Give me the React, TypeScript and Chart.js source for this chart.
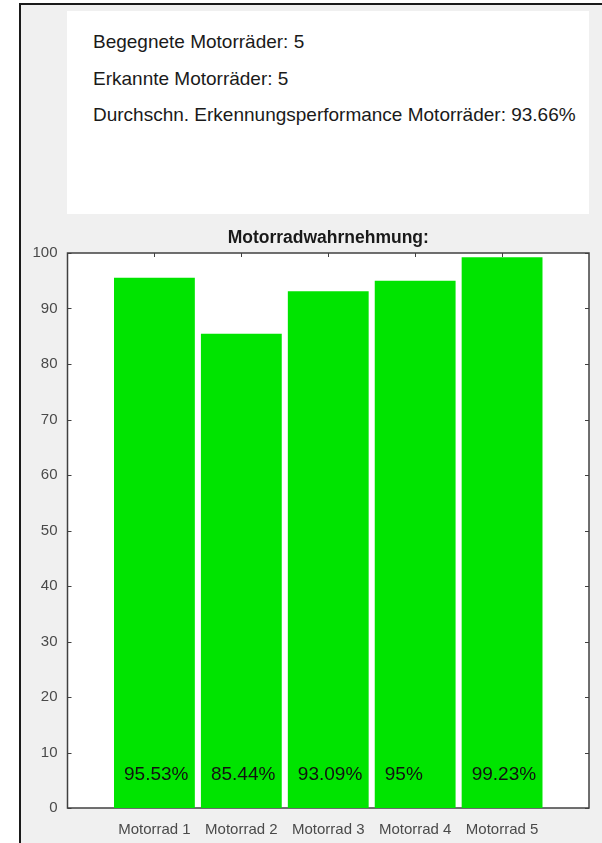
import { useEffect, useRef } from 'react';
import { Chart, registerables } from 'chart.js';

Chart.register(...registerables);

const categories = ['Motorrad 1', 'Motorrad 2', 'Motorrad 3', 'Motorrad 4', 'Motorrad 5'];
const values = [95.53, 85.44, 93.09, 95, 99.23];
const valueLabels = ['95.53%', '85.44%', '93.09%', '95%', '99.23%'];
const yTicks = [0, 10, 20, 30, 40, 50, 60, 70, 80, 90, 100];
const chartTitle = 'Motorradwahrnehmung:';
const infoLines = [
  'Begegnete Motorräder: 5',
  'Erkannte Motorräder: 5',
  'Durchschn. Erkennungsperformance Motorräder: 93.66%',
];
const labelY = 6;
const labelXOffset = -0.35;

const FONT = '"Liberation Sans", Arial, Helvetica, sans-serif';
const AXIS_COLOR = '#404040';

const framePlugin = {
  id: 'matlabFrame',
  beforeDatasetsDraw(chart: any) {
    const { ctx, chartArea } = chart;
    const { left, right, top, bottom } = chartArea;
    const x = chart.scales.x;
    const y = chart.scales.y;
    ctx.save();
    ctx.fillStyle = '#ffffff';
    ctx.fillRect(left, top, right - left, bottom - top);
    ctx.strokeStyle = AXIS_COLOR;
    ctx.lineWidth = 1;
    ctx.beginPath();
    const tl = 4;
    yTicks.forEach((v) => {
      const py = Math.round(y.getPixelForValue(v)) + 0.5;
      ctx.moveTo(left, py);
      ctx.lineTo(left + tl, py);
      ctx.moveTo(right, py);
      ctx.lineTo(right - tl, py);
    });
    categories.forEach((_, i) => {
      const px = Math.round(x.getPixelForValue(i + 1)) + 0.5;
      ctx.moveTo(px, top);
      ctx.lineTo(px, top + tl);
      ctx.moveTo(px, bottom);
      ctx.lineTo(px, bottom - tl);
    });
    ctx.stroke();
    ctx.lineWidth = 1.5;
    ctx.strokeRect(left, top, right - left, bottom - top);
    ctx.restore();
  },
  afterDatasetsDraw(chart: any) {
    const { ctx } = chart;
    const x = chart.scales.x;
    const y = chart.scales.y;
    ctx.save();
    ctx.fillStyle = '#111111';
    ctx.font = `19px ${FONT}`;
    ctx.textAlign = 'left';
    ctx.textBaseline = 'middle';
    valueLabels.forEach((t, i) => {
      ctx.fillText(t, x.getPixelForValue(i + 1 + labelXOffset), y.getPixelForValue(labelY));
    });
    ctx.restore();
  },
};

function BarChart() {
  const ref = useRef<HTMLCanvasElement>(null);
  useEffect(() => {
    const canvas = ref.current;
    if (!canvas) return;
    const chart = new Chart(canvas, {
      type: 'bar',
      data: {
        datasets: [
          {
            data: values.map((v, i) => ({ x: i + 1, y: v })),
            backgroundColor: '#00e400',
            borderWidth: 0,
            categoryPercentage: 1,
            barPercentage: 0.93,
          },
        ],
      },
      options: {
        animation: false,
        responsive: false,
        maintainAspectRatio: false,
        layout: { padding: { left: 0, right: 13, top: 0, bottom: 0 } },
        plugins: {
          legend: { display: false },
          tooltip: { enabled: false },
          title: {
            display: true,
            text: chartTitle,
            fullSize: false,
            color: '#1a1a1a',
            font: { family: FONT, size: 17.5, weight: 'bold', lineHeight: 1.2 },
            padding: { top: 7.5, bottom: 4.5 },
          },
        },
        scales: {
          x: {
            type: 'linear',
            min: 0,
            max: 6,
            offset: false,
            grid: { display: false, drawTicks: false },
            border: { display: false },
            afterBuildTicks: (scale: any) => {
              scale.ticks = categories.map((_, i) => ({ value: i + 1 }));
            },
            afterFit: (scale: any) => {
              scale.height = 35;
            },
            ticks: {
              autoSkip: false,
              maxRotation: 0,
              padding: 13,
              color: '#4a4a4a',
              font: { family: FONT, size: 15 },
              callback: (v: any) => categories[Number(v) - 1] ?? '',
            },
          },
          y: {
            type: 'linear',
            min: 0,
            max: 100,
            grid: { display: false, drawTicks: false },
            border: { display: false },
            afterBuildTicks: (scale: any) => {
              scale.ticks = yTicks.map((v) => ({ value: v }));
            },
            afterFit: (scale: any) => {
              scale.width = 67.5;
            },
            ticks: {
              padding: 10,
              color: '#4a4a4a',
              font: { family: FONT, size: 15 },
            },
          },
        },
      },
      plugins: [framePlugin],
    });
    return () => chart.destroy();
  }, []);
  return (
    <canvas
      ref={ref}
      width={602}
      height={623}
      style={{ position: 'absolute', left: 0, top: 220, width: 602, height: 623 }}
    />
  );
}

export default function App() {
  const lineTops = [31.7, 68.7, 104.7];
  return (
    <div
      style={{
        position: 'fixed',
        left: 0,
        top: 0,
        width: 602,
        height: 843,
        background: '#ffffff',
        overflow: 'hidden',
        fontFamily: FONT,
      }}
    >
      <div
        style={{
          position: 'absolute',
          left: 19,
          top: 3,
          right: 0,
          bottom: 0,
          background: '#f0f0f0',
          borderLeft: '2px solid #1a1a1a',
          borderTop: '2px solid #1a1a1a',
        }}
      />
      <div
        style={{
          position: 'absolute',
          left: 67,
          top: 11,
          width: 522,
          height: 203,
          background: '#ffffff',
        }}
      />
      {infoLines.map((t, i) => (
        <div
          key={i}
          style={{
            position: 'absolute',
            left: 93,
            top: lineTops[i],
            fontSize: 19,
            lineHeight: '19px',
            color: '#1a1a1a',
            whiteSpace: 'nowrap',
          }}
        >
          {t}
        </div>
      ))}
      <BarChart />
    </div>
  );
}
